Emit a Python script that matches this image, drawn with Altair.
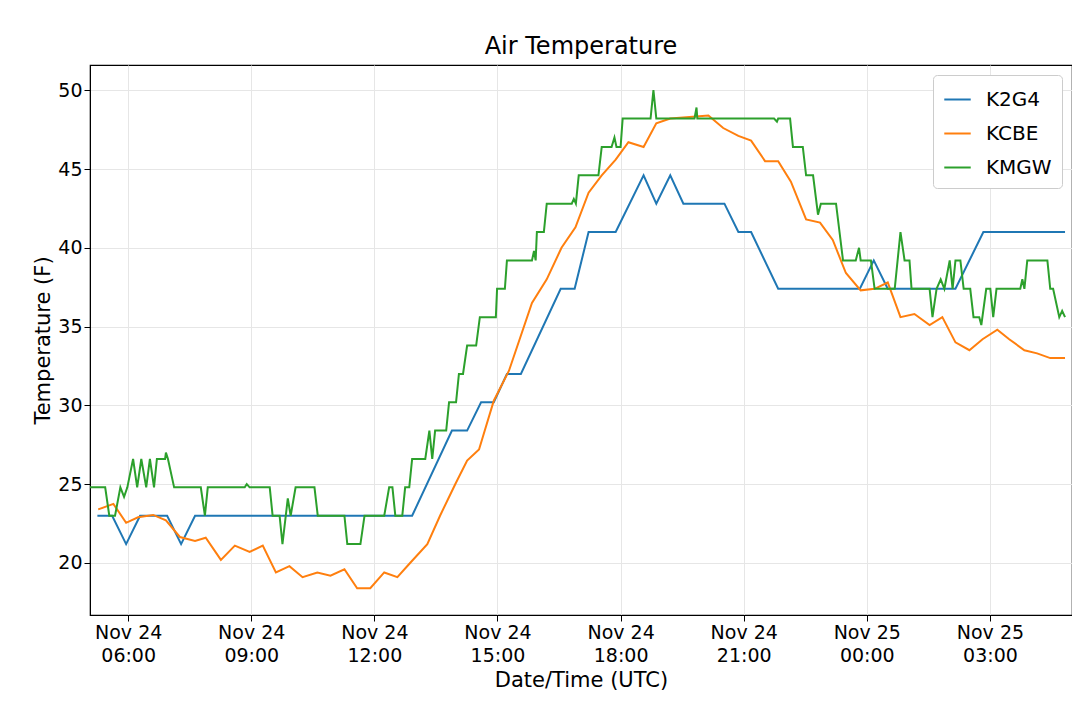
import pandas as pd
import altair as alt

# hours after 2019-11-24 00:00 UTC, temperature (F)
k2g4_h = [5.25, 5.61, 5.95, 6.29, 6.95, 7.29, 7.63, 12.92, 13.89, 14.26, 14.60, 14.91, 15.23, 15.57,
          16.54, 16.88, 17.22, 17.88, 18.56, 18.87, 19.21, 19.53, 20.53, 20.87, 21.18, 21.84, 23.83,
          24.17, 24.51, 26.16, 26.84, 28.83]
k2g4_t = [23, 23, 21.2, 23, 23, 21.2, 23, 23, 28.4, 28.4, 30.2, 30.2, 32, 32, 37.4, 37.4, 41, 41,
          44.6, 42.8, 44.6, 42.8, 42.8, 41, 41, 37.4, 37.4, 39.2, 37.4, 37.4, 41, 41]

kcbe_h = [5.27, 5.64, 5.95, 6.24, 6.61, 6.92, 7.26, 7.63, 7.89, 8.26, 8.60, 8.96, 9.28, 9.60, 9.93,
          10.25, 10.61, 10.93, 11.27, 11.58, 11.90, 12.24, 12.56, 12.87, 13.29, 13.60, 13.97, 14.26,
          14.55, 14.91, 15.28, 15.84, 16.20, 16.56, 16.90, 17.22, 17.54, 17.88, 18.19, 18.56, 18.87,
          19.21, 20.14, 20.50, 20.87, 21.18, 21.52, 21.84, 22.15, 22.52, 22.86, 23.17, 23.49, 23.85,
          24.19, 24.51, 24.82, 25.16, 25.53, 25.84, 26.16, 26.50, 26.82, 27.18, 27.47, 27.84, 28.15,
          28.47, 28.83]
kcbe_t = [23.4, 23.75, 22.55, 22.9, 23.05, 22.7, 21.65, 21.4, 21.6, 20.2, 21.1, 20.7, 21.1, 19.4,
          19.8, 19.1, 19.4, 19.2, 19.6, 18.4, 18.4, 19.4, 19.1, 20.0, 21.2, 23.0, 25.0, 26.5, 27.2,
          30.3, 32.2, 36.5, 38.0, 40.0, 41.3, 43.5, 44.6, 45.6, 46.7, 46.4, 47.9, 48.2, 48.4, 47.6,
          47.1, 46.8, 45.5, 45.5, 44.2, 41.8, 41.6, 40.5, 38.4, 37.3, 37.4, 37.8, 35.6, 35.8, 35.1,
          35.6, 34.0, 33.5, 34.2, 34.8, 34.2, 33.5, 33.3, 33.0, 33.0]

kmgw_h = [5.03, 5.44, 5.54, 5.68, 5.81, 5.90, 5.98, 6.12, 6.22, 6.32, 6.44, 6.53, 6.63, 6.70, 6.90,
          6.92, 6.97, 7.12, 7.77, 7.87, 7.94, 8.84, 8.89, 8.96, 9.45, 9.52, 9.69, 9.76, 9.89, 9.96,
          10.08, 10.54, 10.62, 11.27, 11.34, 11.66, 11.76, 12.24, 12.36, 12.44, 12.51, 12.68, 12.75,
          12.85, 12.92, 13.24, 13.34, 13.41, 13.48, 13.75, 13.82, 13.99, 14.06, 14.16, 14.26, 14.48,
          14.57, 14.96, 14.99, 15.18, 15.23, 15.84, 15.89, 15.93, 15.96, 16.13, 16.20, 16.81, 16.86,
          16.91, 16.98, 17.46, 17.54, 17.78, 17.85, 17.90, 18.00, 18.05, 18.73, 18.80, 18.87, 19.80,
          19.85, 19.87, 21.74, 21.81, 21.84, 22.13, 22.20, 22.44, 22.52, 22.69, 22.81, 22.88, 23.25,
          23.42, 23.73, 23.81, 23.85, 24.10, 24.19, 24.68, 24.82, 24.92, 25.04, 25.09, 25.53, 25.60,
          25.70, 25.80, 25.89, 26.02, 26.09, 26.16, 26.28, 26.36, 26.52, 26.60, 26.74, 26.79, 26.91,
          27.01, 27.08, 27.16, 27.74, 27.79, 27.84, 27.91, 28.40, 28.47, 28.54, 28.69, 28.76, 28.83]
kmgw_t = [24.8, 24.8, 23.0, 23.0, 24.8, 24.2, 24.8, 26.6, 24.8, 26.6, 24.8, 26.6, 24.8, 26.6, 26.6,
          27.0, 26.6, 24.8, 24.8, 23.0, 24.8, 24.8, 25.0, 24.8, 24.8, 23.0, 23.0, 21.2, 24.1, 23.0,
          24.8, 24.8, 23.0, 23.0, 21.2, 21.2, 23.0, 23.0, 24.8, 24.8, 23.0, 23.0, 24.8, 24.8, 26.6,
          26.6, 28.4, 26.6, 28.4, 28.4, 30.2, 30.2, 32.0, 32.0, 33.8, 33.8, 35.6, 35.6, 37.4, 37.4,
          39.2, 39.2, 39.8, 39.2, 41.0, 41.0, 42.8, 42.8, 43.1, 42.8, 44.6, 44.6, 46.4, 46.4, 47.0,
          46.4, 46.4, 48.2, 48.2, 50.0, 48.2, 48.2, 48.9, 48.2, 48.2, 48.0, 48.2, 48.2, 46.4, 46.4,
          44.6, 44.6, 42.1, 42.8, 42.8, 39.2, 39.2, 40.0, 39.2, 39.2, 37.4, 37.4, 41.0, 39.2, 39.2,
          37.4, 37.4, 35.6, 37.4, 38.0, 37.4, 39.2, 37.4, 39.2, 39.2, 37.4, 37.4, 35.6, 35.6, 35.1,
          37.4, 37.4, 35.6, 37.4, 37.4, 38.0, 37.4, 39.2, 39.2, 37.4, 37.4, 35.6, 36.0, 35.6]

base = pd.Timestamp("2019-11-24T00:00:00")
frames = []
for name, hs, ts in [("K2G4", k2g4_h, k2g4_t), ("KCBE", kcbe_h, kcbe_t), ("KMGW", kmgw_h, kmgw_t)]:
    frames.append(pd.DataFrame({"time": [base + pd.Timedelta(hours=h) for h in hs],
                                "temp": ts, "station": name}))
df = pd.concat(frames)
df["time"] = df["time"].dt.strftime("%Y-%m-%dT%H:%M:%SZ")

tick_vals = [int((base + pd.Timedelta(hours=h)).timestamp() * 1000) for h in range(6, 28, 3)]
x0 = int((base + pd.Timedelta(hours=5.07)).timestamp() * 1000)
x1 = int((base + pd.Timedelta(hours=29.0)).timestamp() * 1000)

chart = alt.Chart(df).mark_line(strokeWidth=2, clip=True).encode(
    x=alt.X("time:T", title="Date/Time (UTC)",
            scale=alt.Scale(type="utc", domain=[x0, x1], nice=False),
            axis=alt.Axis(values=tick_vals,
                          labelExpr="[utcFormat(datum.value, '%b %d'), utcFormat(datum.value, '%H:%M')]")),
    y=alt.Y("temp:Q", title="Temperature (F)",
            scale=alt.Scale(domain=[16.7, 51.6], nice=False, zero=False),
            axis=alt.Axis(values=[20, 25, 30, 35, 40, 45, 50])),
    color=alt.Color("station:N", title=None,
                    scale=alt.Scale(domain=["K2G4", "KCBE", "KMGW"],
                                    range=["#1f77b4", "#ff7f0e", "#2ca02c"]),
                    legend=alt.Legend(orient="top-right", symbolType="stroke", symbolSize=700,
                                      symbolStrokeWidth=2, labelFontSize=20, padding=10,
                                      strokeColor="#cccccc", fillColor="white", cornerRadius=4,
                                      rowPadding=9, offset=10, labelOffset=14,
                                      labelFont="DejaVu Sans")),
).properties(
    width=982, height=550,
    title=alt.Title("Air Temperature", fontSize=24, font="DejaVu Sans", fontWeight="normal", offset=6),
    autosize="none",
    padding={"left": 82, "top": 57, "right": 0, "bottom": 80},
).configure_view(stroke="black", strokeWidth=1.2).configure_axis(
    labelFont="DejaVu Sans", titleFont="DejaVu Sans", labelFontSize=19, titleFontSize=21,
    titleFontWeight="normal", labelColor="black", titleColor="black",
    gridColor="#e6e6e6", domainColor="black", tickColor="black", tickSize=6,
    labelLineHeight=23,
)

chart.save("out.html", embed_options={"renderer": "svg", "actions": False})
